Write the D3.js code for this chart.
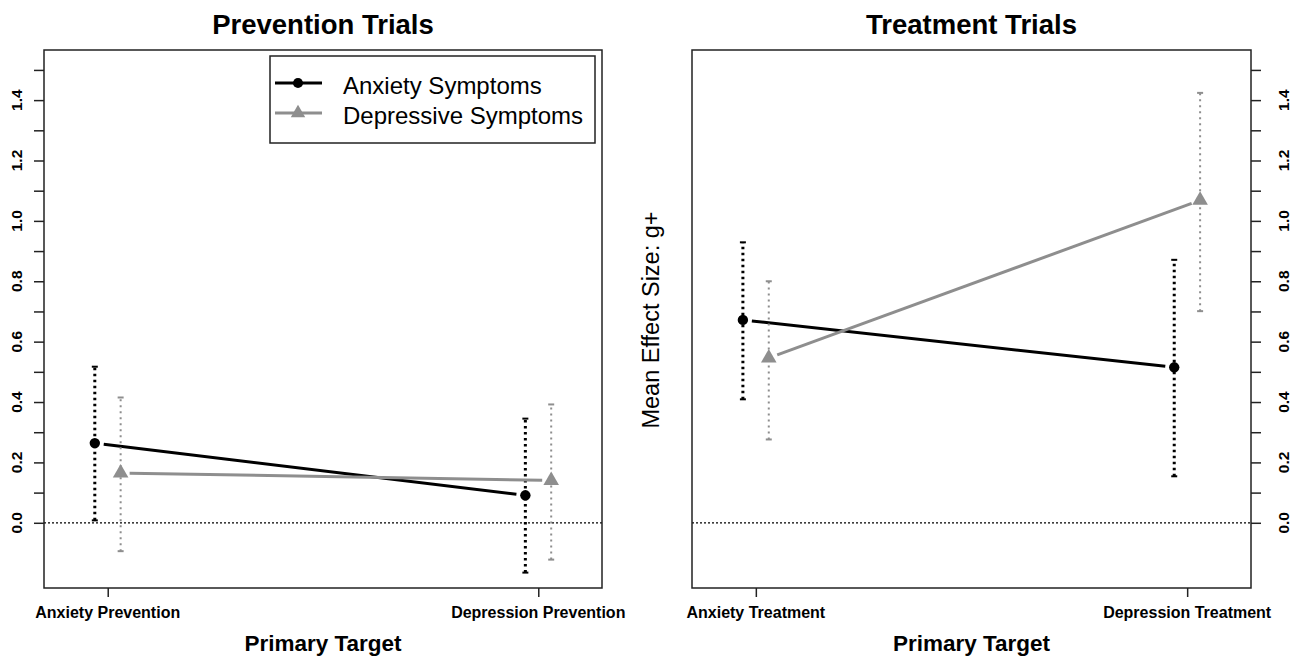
<!DOCTYPE html>
<html lang="en">
<head>
<meta charset="UTF-8">
<title>Prevention and Treatment Trials</title>
<script src="https://cdn.jsdelivr.net/npm/d3@7"></script>
<style>
  body { margin: 0; background: #fff; }
  text { font-family: "Liberation Sans", Arial, sans-serif; fill: #000; }
</style>
</head>
<body>
<div id="chart"></div>
<script>
// data
const panelTitles = ["Prevention Trials", "Treatment Trials"];
const preventionTargets = ["Anxiety Prevention", "Depression Prevention"];
const treatmentTargets = ["Anxiety Treatment", "Depression Treatment"];
const seriesNames = ["Anxiety Symptoms", "Depressive Symptoms"];

const anxPrev = [0.264, 0.091];
const anxPrevLo = [0.008, -0.165];
const anxPrevHi = [0.517, 0.345];
const depPrev = [0.165, 0.140];
const depPrevLo = [-0.094, -0.122];
const depPrevHi = [0.415, 0.392];

const anxTreat = [0.672, 0.515];
const anxTreatLo = [0.409, 0.154];
const anxTreatHi = [0.929, 0.871];
const depTreat = [0.546, 1.068];
const depTreatLo = [0.276, 0.701];
const depTreatHi = [0.800, 1.424];

const yTicks = d3.range(0, 1.51, 0.1);
const yLabels = ["0.0", "0.2", "0.4", "0.6", "0.8", "1.0", "1.2", "1.4"];

const W = 1296, H = 656;
const gray = "#8e8e8e";
const plotTop = 50, plotBottom = 588;

const svg = d3.select("#chart").append("svg")
  .attr("width", W).attr("height", H);

// R style 4% expansion of xlim 0.9..2.1 and ylim -0.15..1.5
const y = d3.scaleLinear().domain([-0.216, 1.566]).range([plotBottom, plotTop]);

function panel(opts) {
  const x = d3.scaleLinear().domain([0.852, 2.148]).range([opts.left, opts.right]);
  const g = svg.append("g");

  // zero line
  g.append("line")
    .attr("x1", opts.left).attr("x2", opts.right)
    .attr("y1", y(0)).attr("y2", y(0))
    .attr("stroke", "#000").attr("stroke-width", 1.2)
    .attr("stroke-dasharray", "2,2");

  // box
  g.append("rect")
    .attr("x", opts.left).attr("y", plotTop)
    .attr("width", opts.right - opts.left).attr("height", plotBottom - plotTop)
    .attr("fill", "none").attr("stroke", "#222").attr("stroke-width", 1.5);

  // y axis
  const axisY = opts.side === "left" ? d3.axisLeft(y) : d3.axisRight(y);
  const ay = g.append("g")
    .attr("transform", `translate(${opts.side === "left" ? opts.left : opts.right},0)`)
    .call(axisY.tickValues(yTicks).tickSize(10).tickFormat(""));
  ay.select(".domain").remove();
  ay.selectAll("line").attr("stroke", "#222").attr("stroke-width", 1.5);

  const lx = opts.side === "left" ? 22 : 1289;
  g.selectAll(".ylab").data(yLabels).enter().append("text")
    .attr("transform", d => `translate(${lx},${y(+d)}) rotate(-90)`)
    .attr("text-anchor", "middle")
    .attr("font-size", 15.5).attr("font-weight", "bold")
    .text(d => d);

  // x axis
  const ax = g.append("g")
    .attr("transform", `translate(0,${plotBottom})`)
    .call(d3.axisBottom(x).tickValues([1, 2]).tickSize(9).tickFormat(""));
  ax.select(".domain").remove();
  ax.selectAll("line").attr("stroke", "#222").attr("stroke-width", 1.5);

  g.selectAll(".xlab").data(opts.targets).enter().append("text")
    .attr("x", (d, i) => x(i + 1)).attr("y", 618)
    .attr("text-anchor", "middle")
    .attr("font-size", 16).attr("font-weight", "bold")
    .text(d => d);

  g.append("text")
    .attr("x", (opts.left + opts.right) / 2).attr("y", 651)
    .attr("text-anchor", "middle")
    .attr("font-size", 22.5).attr("font-weight", "bold")
    .text("Primary Target");

  g.append("text")
    .attr("x", (opts.left + opts.right) / 2).attr("y", 34)
    .attr("text-anchor", "middle")
    .attr("font-size", 27.5).attr("font-weight", "bold")
    .text(opts.title);

  const series = [
    { v: opts.anx, lo: opts.anxLo, hi: opts.anxHi, dx: -0.03, color: "#000", lw: 3, ew: 3, dash: "2.5,3.5", shape: "circle" },
    { v: opts.dep, lo: opts.depLo, hi: opts.depHi, dx: 0.03, color: gray, lw: 3, ew: 2, dash: "2,4", shape: "triangle" }
  ];

  series.forEach(s => {
    const pts = s.v.map((v, i) => [x(i + 1 + s.dx), y(v)]);
    // connecting line with gaps at the points (type = "b")
    const [p0, p1] = pts;
    const len = Math.hypot(p1[0] - p0[0], p1[1] - p0[1]);
    const ux = (p1[0] - p0[0]) / len, uy = (p1[1] - p0[1]) / len;
    const gap = 9;
    g.append("line")
      .attr("x1", p0[0] + ux * gap).attr("y1", p0[1] + uy * gap)
      .attr("x2", p1[0] - ux * gap).attr("y2", p1[1] - uy * gap)
      .attr("stroke", s.color).attr("stroke-width", s.lw);

    // error bars
    s.v.forEach((v, i) => {
      const cx = x(i + 1 + s.dx);
      g.append("line")
        .attr("x1", cx).attr("x2", cx)
        .attr("y1", y(s.lo[i])).attr("y2", y(s.hi[i]))
        .attr("stroke", s.color).attr("stroke-width", s.ew)
        .attr("stroke-dasharray", s.dash);
      [s.lo[i], s.hi[i]].forEach(e => {
        g.append("line")
          .attr("x1", cx - 3).attr("x2", cx + 3)
          .attr("y1", y(e)).attr("y2", y(e))
          .attr("stroke", s.color).attr("stroke-width", 2);
      });
    });

    // markers
    const sym = s.shape === "circle" ? d3.symbolCircle : d3.symbolTriangle;
    const size = s.shape === "circle" ? 85 : 105;
    g.selectAll(null).data(pts).enter().append("path")
      .attr("d", d3.symbol().type(sym).size(size))
      .attr("transform", d => `translate(${d[0]},${d[1]})`)
      .attr("fill", s.color);
  });
}

panel({
  left: 44, right: 602, side: "left", title: panelTitles[0], targets: preventionTargets,
  anx: anxPrev, anxLo: anxPrevLo, anxHi: anxPrevHi,
  dep: depPrev, depLo: depPrevLo, depHi: depPrevHi
});
panel({
  left: 692, right: 1251, side: "right", title: panelTitles[1], targets: treatmentTargets,
  anx: anxTreat, anxLo: anxTreatLo, anxHi: anxTreatHi,
  dep: depTreat, depLo: depTreatLo, depHi: depTreatHi
});

// shared y axis title
svg.append("text")
  .attr("transform", `translate(659,320) rotate(-90)`)
  .attr("text-anchor", "middle")
  .attr("font-size", 23.5)
  .text("Mean Effect Size: g+");

// legend
const leg = svg.append("g").attr("transform", "translate(270,56)");
leg.append("rect")
  .attr("width", 325).attr("height", 87)
  .attr("fill", "#fff").attr("stroke", "#222").attr("stroke-width", 1.5);
seriesNames.forEach((name, i) => {
  const ly = 27 + i * 30;
  const c = i === 0 ? "#000" : gray;
  leg.append("line")
    .attr("x1", 5).attr("x2", 52).attr("y1", ly).attr("y2", ly)
    .attr("stroke", c).attr("stroke-width", 3);
  leg.append("path")
    .attr("d", d3.symbol().type(i === 0 ? d3.symbolCircle : d3.symbolTriangle).size(i === 0 ? 80 : 90))
    .attr("transform", `translate(28,${ly})`)
    .attr("fill", c);
  leg.append("text")
    .attr("x", 73).attr("y", ly + 11)
    .attr("font-size", 24)
    .text(name);
});
</script>
</body>
</html>
